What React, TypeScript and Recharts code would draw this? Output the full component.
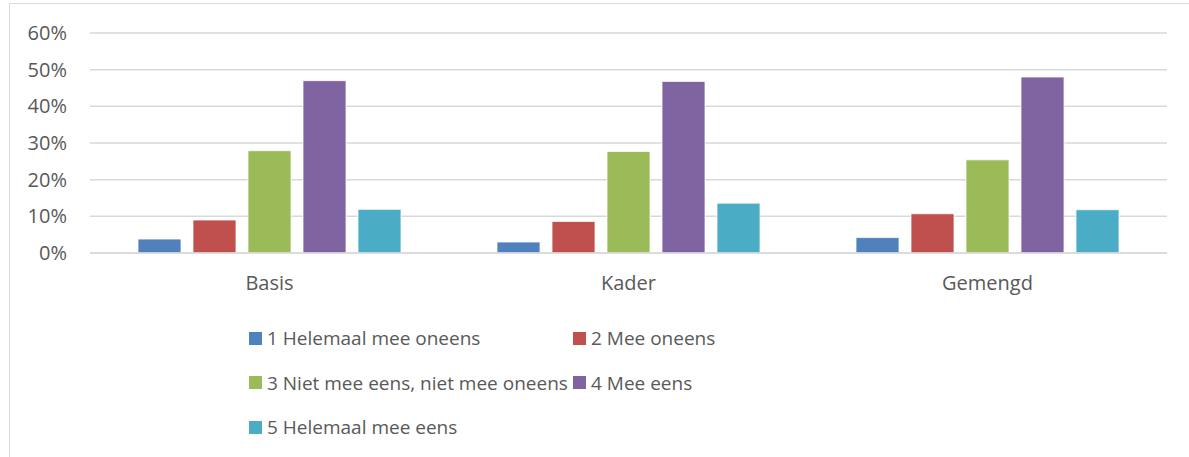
import { BarChart, Bar, XAxis, YAxis, CartesianGrid, Legend } from 'recharts';

const categories = ['Basis', 'Kader', 'Gemengd'];
const seriesNames = [
  '1 Helemaal mee oneens',
  '2 Mee oneens',
  '3 Niet mee eens, niet mee oneens',
  '4 Mee eens',
  '5 Helemaal mee eens',
];
const seriesColors = ['#4F81BD', '#C0504D', '#9BBB59', '#8064A2', '#4BACC6'];
const helemaalOneens = [3.8, 3.0, 4.2];
const meeOneens = [9.0, 8.6, 10.7];
const neutraal = [27.9, 27.7, 25.4];
const meeEens = [47.0, 46.8, 48.0];
const helemaalEens = [11.9, 13.6, 11.8];
const yTicks = [0, 10, 20, 30, 40, 50, 60];

const seriesValues = [helemaalOneens, meeOneens, neutraal, meeEens, helemaalEens];
const data = categories.map((name, i) => {
  const row: Record<string, string | number> = { name };
  seriesNames.forEach((s, j) => {
    row[s] = seriesValues[j][i];
  });
  return row;
});

const textColor = '#595959';
const font = '"Open Sans", sans-serif';

function LegendGrid() {
  return (
    <div
      style={{
        display: 'grid',
        gridTemplateColumns: '324px 324px',
        gridAutoRows: '44.5px',
        fontFamily: font,
        fontSize: 19,
        color: textColor,
      }}
    >
      {seriesNames.map((s, i) => (
        <div key={s} style={{ display: 'flex', alignItems: 'center', whiteSpace: 'nowrap' }}>
          <span style={{ width: 13, height: 13, background: seriesColors[i], marginRight: 5, display: 'inline-block' }} />
          {s}
        </div>
      ))}
    </div>
  );
}

export default function App() {
  return (
    <div style={{ position: 'absolute', left: 0, top: 0, width: 1189, height: 457, overflow: 'hidden', background: '#fff' }}>
      <div
        style={{
          position: 'absolute',
          left: 9,
          top: 3,
          width: 1200,
          height: 480,
          border: '1px solid #d9d9d9',
        }}
      />
      <div style={{ position: 'absolute', left: 0, top: 0 }}>
        <BarChart
          width={1189}
          height={457}
          data={data}
          margin={{ top: 33, right: 22, left: 30, bottom: 174 }}
          barSize={43}
          barGap={12}
        >
          <CartesianGrid vertical={false} stroke="#d9d9d9" strokeWidth={1.5} />
          <XAxis
            dataKey="name"
            height={30}
            axisLine={{ stroke: '#d9d9d9', strokeWidth: 1.5 }}
            tickLine={false}
            tickMargin={17}
            tick={{ fill: textColor, fontSize: 20, fontFamily: font }}
          />
          <YAxis
            width={60}
            domain={[0, 60]}
            ticks={yTicks}
            axisLine={false}
            tickLine={false}
            tickMargin={17}
            tickFormatter={(v) => `${v}%`}
            tick={{ fill: textColor, fontSize: 20, fontFamily: font }}
          />
          <Legend
            layout="horizontal"
            verticalAlign="middle"
            align="center"
            content={() => <LegendGrid />}
            wrapperStyle={{ left: 249, top: 316, width: 700 }}
          />
          {seriesNames.map((s, i) => (
            <Bar key={s} dataKey={s} fill={seriesColors[i]} stroke="#ffffff" strokeWidth={0.75} isAnimationActive={false} />
          ))}
        </BarChart>
      </div>
    </div>
  );
}
